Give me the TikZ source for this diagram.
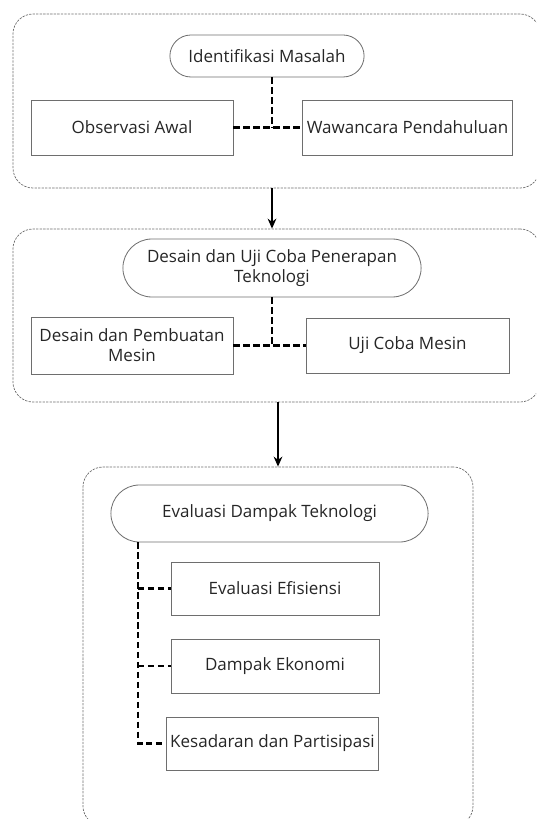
\documentclass[tikz,border=0pt]{standalone}
\usepackage{fontspec}
\setmainfont{Open Sans}
\usepackage{tikz}
\usetikzlibrary{arrows.meta,positioning,shapes.misc}

\definecolor{txtgray}{HTML}{262626}
\definecolor{edgegray}{HTML}{6E6E6E}

\begin{document}
\begin{tikzpicture}[
  x=0.03cm, y=-0.03cm,
  font=\fontsize{14.5}{17}\selectfont,
  group/.style={draw=edgegray, dash pattern=on 2pt off 1pt, line width=0.6pt, rounded corners=0.6cm},
  pill/.style={draw=edgegray, line width=0.7pt, rounded rectangle, align=center, text=txtgray, minimum height=1.26cm},
  box/.style={draw=edgegray, line width=0.7pt, align=center, text=txtgray, minimum width=6.06cm, minimum height=1.65cm},
  link/.style={line width=2.2pt, dash pattern=on 5.5pt off 3pt},
  arrow/.style={-{Stealth[length=3mm, width=2.6mm]}, line width=1.4pt}
]
\clip (0,0) rectangle (536,819);

% kelompok 1
\node[group, minimum width=15.81cm, minimum height=5.22cm] (grp1) at (276.5,101) {};
\node[pill, minimum width=6.06cm] (idm) at (267,56) {Identifikasi Masalah};
\node[box] (obs) at (132,127.5) {Observasi Awal};
\node[box, minimum width=6.09cm] (waw) at (407.5,127.5) {Wawancara Pendahuluan};
\coordinate (j1) at (272,127.5);

% kelompok 2
\node[group, minimum width=15.81cm, minimum height=5.19cm] (grp2) at (276.5,315.5) {};
\node[pill, minimum width=9.18cm, minimum height=1.74cm] (dut) at (272,268) {Desain dan Uji Coba Penerapan\\Teknologi};
\node[box, minimum height=1.71cm] (dpm) at (132,345.5) {Desain dan Pembuatan\\Mesin};
\node[box, minimum width=6.09cm] (ucm) at (407.5,345.5) {Uji Coba Mesin};
\coordinate (j2) at (272,345.5);

% kelompok 3
\node[group, minimum width=11.7cm, minimum height=10.77cm] (grp3) at (278,646.5) {};
\node[pill, minimum width=9.75cm, minimum height=1.71cm] (edt) at (269.5,513.5) {Evaluasi Dampak Teknologi};
\node[box, minimum width=6.24cm, minimum height=1.59cm] (eef) at (275,588.5) {Evaluasi Efisiensi};
\node[box, minimum width=6.24cm, minimum height=1.62cm] (dek) at (275,666) {Dampak Ekonomi};
\node[box, minimum width=6.27cm, minimum height=1.59cm] (kdp) at (272.5,743.5) {Kesadaran dan Partisipasi};
\coordinate (bus) at (138,743.5);

% penghubung
\draw[link] (idm.south -| j1) -- (j1);
\draw[link] (obs.east) -- (waw.west);
\draw[link] (dut.south -| j2) -- (j2);
\draw[link] (dpm.east) -- (ucm.west);
\draw[link] (edt.south -| bus) -- (bus) -- (kdp.west);
\draw[link] (eef.west -| bus) -- (eef.west);
\draw[link] (dek.west -| bus) -- (dek.west);

\draw[arrow] (grp1.south -| j1) -- (grp2.north -| j1);
\draw[arrow] (grp2.south -| grp3.north) -- (grp3.north);
\end{tikzpicture}
\end{document}
